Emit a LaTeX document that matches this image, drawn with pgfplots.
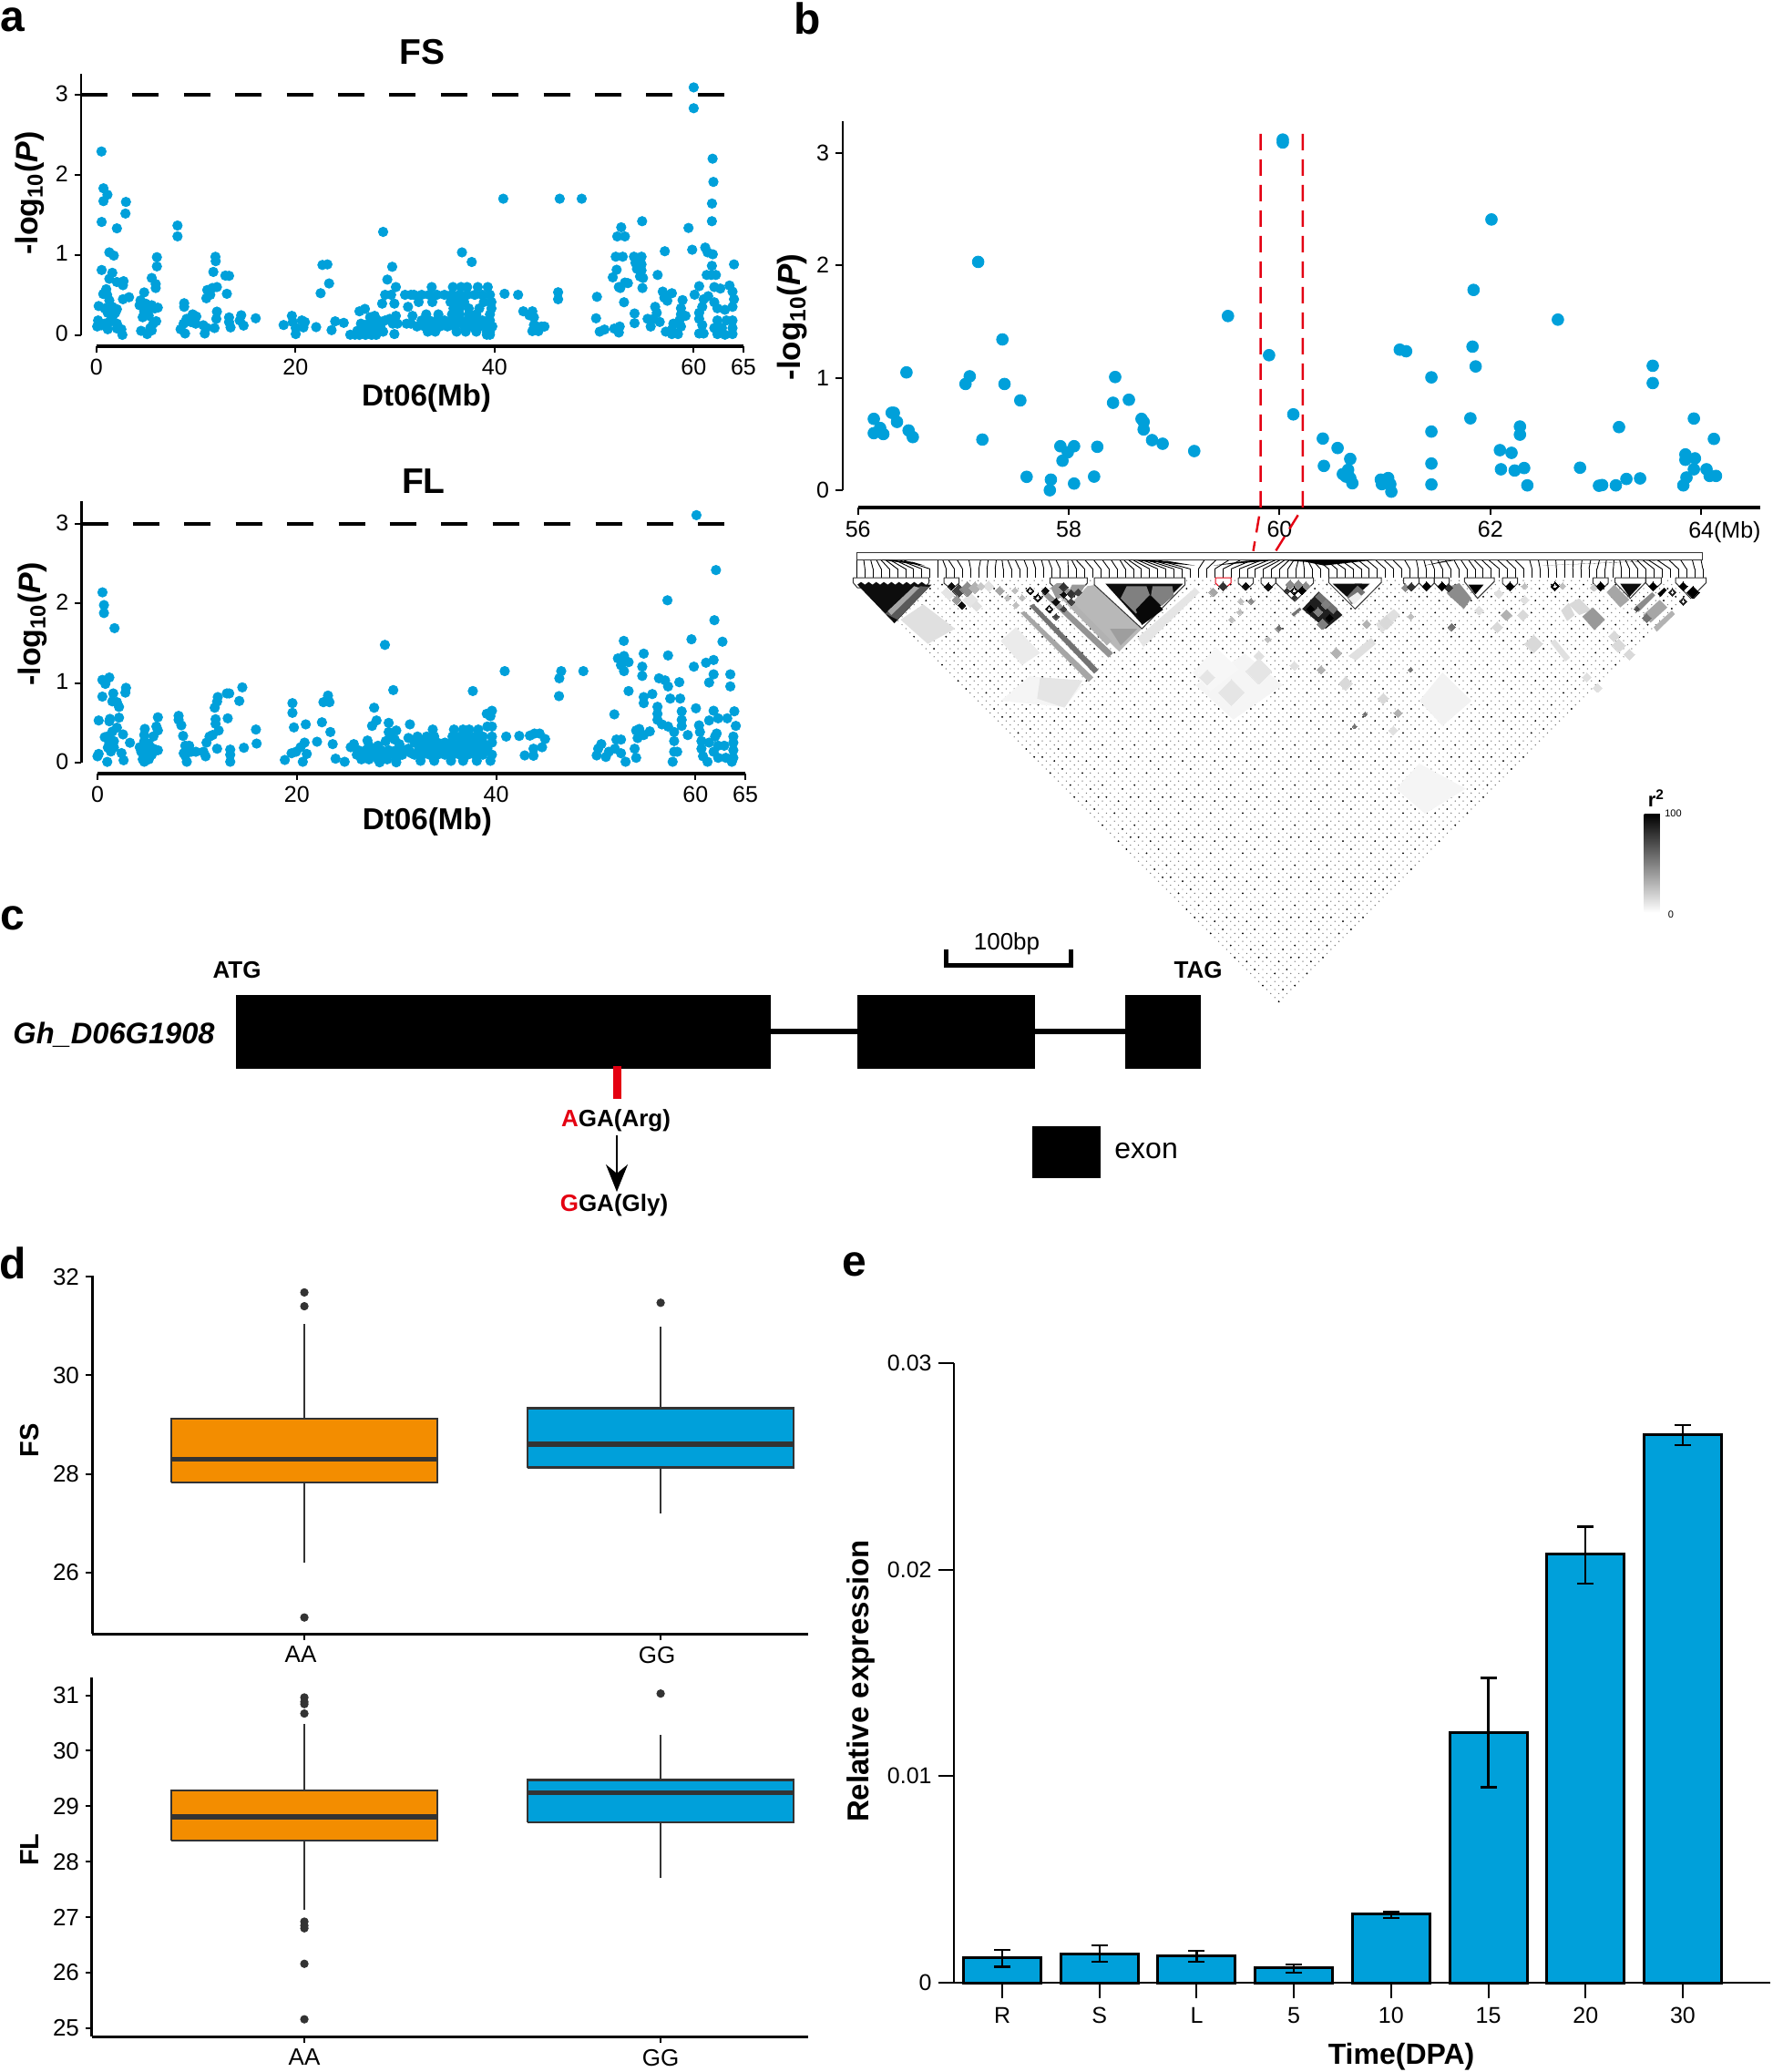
\documentclass[border=0pt]{standalone}
\usepackage{fontspec}
\setmainfont{Liberation Sans}
\usepackage{graphicx}
\usepackage{xcolor}
\usepackage{pgfplots}
\pgfplotsset{compat=1.18}
\usetikzlibrary{arrows.meta,patterns}
\usepackage{pgfplotstable}

\definecolor{dotblue}{RGB}{0,160,218}
\definecolor{boxorange}{RGB}{243,141,0}
\definecolor{boxdark}{RGB}{51,51,51}
\definecolor{snpred}{RGB}{228,0,18}
\newcommand\fs[1]{\fontsize{#1}{#1}\selectfont}

% dot lattice of the LD triangle, 1px = 0.5pt
\pgfdeclarepatternformonly{lddots}{\pgfqpoint{-1pt}{-1pt}}{\pgfqpoint{5.4pt}{5.4pt}}{\pgfqpoint{4.4pt}{4.4pt}}{%
  \pgfpathcircle{\pgfqpoint{0pt}{0pt}}{.36pt}%
  \pgfpathcircle{\pgfqpoint{2.2pt}{2.2pt}}{.36pt}%
  \pgfusepath{fill}}
% darker cells scattered on the same lattice
\pgfdeclarepatternformonly{ldspeck}{\pgfqpoint{-1pt}{-1pt}}{\pgfqpoint{18.6pt}{23pt}}{\pgfqpoint{17.6pt}{22pt}}{%
  \pgfpathcircle{\pgfqpoint{0pt}{0pt}}{.5pt}%
  \pgfpathcircle{\pgfqpoint{6.6pt}{2.2pt}}{.5pt}%
  \pgfpathcircle{\pgfqpoint{13.2pt}{8.8pt}}{.5pt}%
  \pgfpathcircle{\pgfqpoint{2.2pt}{11pt}}{.5pt}%
  \pgfpathcircle{\pgfqpoint{8.8pt}{17.6pt}}{.5pt}%
  \pgfpathcircle{\pgfqpoint{15.4pt}{15.4pt}}{.5pt}%
  \pgfpathcircle{\pgfqpoint{4.4pt}{17.6pt}}{.5pt}%
  \pgfusepath{fill}}

\pgfplotsset{
  /pgf/number format/assume math mode=true,
  tick label style={font=\fs{12.5}},
  every axis title shift=0pt,
  panel/.style={scale only axis,axis lines*=left,axis line style={-},tick align=outside,
    clip=false,tick style={black}},
  manh/.style={panel,xmin=0,xmax=65,ymin=0,xtick={0,20,40,60,65},ytick={0,1,2,3},
    x axis line style={line width=1.7pt},y axis line style={line width=1.1pt},
    major tick length=3.5pt,tick style={line width=1pt,black},
    yticklabel style={yshift=.7pt},
    title style={font=\bfseries\fs{19.5}},xlabel style={font=\bfseries\fs{16.6}},
    ylabel style={font=\bfseries\fs{17}}},
  gdot/.style={only marks,color=dotblue,mark=*,mark size=2.6pt,mark options={solid}},
  boxp/.style={panel,xmin=0.404,xmax=2.414,xtick={1,2},xticklabels={AA,GG},
    axis line style={line width=1.5pt},major tick length=3.5pt,tick style={line width=1pt,black},
    tick label style={font=\fs{13}},ylabel style={font=\bfseries\fs{14.5}}},
  outl/.style={only marks,color=boxdark,mark=*,mark size=2.1pt,forget plot},
  crop/.style={scale only axis,hide axis,anchor=south west,height=130pt,ymin=0,ymax=780,y dir=reverse,clip=false}
}
\newcommand\pg[2]{\addplot[draw=none,fill=#1,forget plot] coordinates {#2};}
\newcommand\ld[3]{\addplot[only marks,color=#1,mark=square*,mark size=#2,mark options={rotate=45,line width=0pt,solid},forget plot] coordinates {#3};}
\newcommand\blk[2][black!80]{\addplot[draw=#1,line width=.5pt,fill=white,forget plot] coordinates {#2};}
% box: left, centre, right, low whisker, q1, median, q3, high whisker, fill
\newcommand\bx[9]{%
  \addplot[boxdark,line width=1.2pt,forget plot] coordinates {(#2,#4)(#2,#5)};
  \addplot[boxdark,line width=1.2pt,forget plot] coordinates {(#2,#7)(#2,#8)};
  \addplot[fill=#9,draw=boxdark,line width=1.2pt,forget plot] coordinates {(#1,#5)(#3,#5)(#3,#7)(#1,#7)(#1,#5)};
  \addplot[boxdark,line width=2.8pt,forget plot] coordinates {(#1,#6)(#3,#6)};
}

\pgfplotstableread{
xt xb
32 32
44 46
56 60
66 74
74 88
82 102
90 116
98 130
106 144
112 158
172 172
180 186
190 200
205 214
225 228
245 242
258 256
272 270
282 284
292 298
305 312
320 326
335 340
350 354
362 368
375 382
395 396
402 410
410 424
425 438
440 452
455 466
470 480
485 494
492 508
500 522
508 536
516 550
524 564
532 578
540 592
550 606
630 620
650 634
672 648
692 662
712 676
728 690
740 704
752 718
760 732
768 746
776 760
784 774
792 788
800 802
808 816
816 830
826 844
840 858
850 872
865 886
880 900
895 914
910 928
925 942
940 956
955 970
975 984
995 998
1008 1012
1020 1026
1032 1040
1045 1054
1060 1068
1072 1082
1085 1096
1095 1110
1108 1124
1120 1138
1135 1152
1150 1166
1165 1180
1190 1194
1205 1208
1220 1222
1235 1236
1250 1250
1265 1264
1280 1278
1295 1292
1310 1306
1322 1320
1335 1334
1345 1348
1355 1362
1365 1376
1375 1390
1385 1404
1395 1418
1410 1432
1430 1446
1450 1460
1470 1474
1485 1488
}\snplines

\begin{document}
\begin{tikzpicture}
\useasboundingbox (0pt,0pt) rectangle (973pt,-1137pt);

% whole-page axis in reference pixels: panel letters and the gene model
\begin{axis}[scale only axis,hide axis,at={(0pt,-1137pt)},anchor=south west,width=973pt,height=1137pt,
  xmin=0,xmax=1946,ymin=0,ymax=2274,y dir=reverse,clip=false]
\node[font=\bfseries\fs{24}] at (axis cs:14,22) {a};
\node[font=\bfseries\fs{24}] at (axis cs:886,20) {b};
\node[font=\bfseries\fs{24}] at (axis cs:14,1008) {c};
\node[font=\bfseries\fs{24}] at (axis cs:14,1386) {d};
\node[font=\bfseries\fs{24}] at (axis cs:938,1388) {e};
% gene model
\pg{black}{(259,1092)(845.5,1092)(845.5,1173)(259,1173)}
\pg{black}{(941,1092)(1136,1092)(1136,1173)(941,1173)}
\pg{black}{(1235,1092)(1318,1092)(1318,1173)(1235,1173)}
\pg{black}{(845,1129)(941,1129)(941,1135)(845,1135)}
\pg{black}{(1136,1129)(1235,1129)(1235,1135)(1136,1135)}
\pg{snpred}{(672.5,1170)(681.5,1170)(681.5,1206)(672.5,1206)}
\pg{black}{(1133,1236)(1208,1236)(1208,1293)(1133,1293)}
\addplot[line width=2.5pt,forget plot] coordinates {(1038,1042)(1038,1059)(1175,1059)(1175,1042)};
\addplot[line width=1pt,-{Stealth[length=15pt,width=12pt]},forget plot] coordinates {(677,1246)(677,1308)};
\node[font=\bfseries\fs{13}] at (axis cs:260,1065) {ATG};
\node[font=\bfseries\fs{13}] at (axis cs:1315,1065) {TAG};
\node[font=\bfseries\itshape\fs{16.3}] at (axis cs:125,1136) {Gh\_D06G1908};
\node[font=\fs{13}] at (axis cs:1105,1036) {100bp};
\node[font=\fs{16},anchor=west,inner sep=0pt] at (axis cs:1223,1263) {exon};
\node[font=\bfseries\fs{13}] at (axis cs:676,1230) {\textcolor{snpred}{A}GA(Arg)};
\node[font=\bfseries\fs{13}] at (axis cs:674,1323) {\textcolor{snpred}{G}GA(Gly)};
\end{axis}

% LD triangle, numbers are positions inside the crop of the heat map
\begin{axis}[scale only axis,hide axis,at={(460pt,-565pt)},anchor=south west,width=500pt,height=270pt,
  xmin=0,xmax=1568,ymin=0,ymax=1568,y dir=reverse,clip=false]
\addplot[draw=none,pattern=lddots,pattern color=black!55,forget plot] coordinates {(30,130)(1490,130)(760,1495)};
\addplot[draw=none,pattern=ldspeck,pattern color=black,forget plot] coordinates {(30,130)(1490,130)(760,1495)};
% very light patches
\pg{black!4}{(700,370)(765,470)(680,580)(615,470)}
\pg{black!3}{(650,350)(690,420)(640,490)(610,430)}
\pg{black!4}{(330,440)(420,470)(390,540)(280,520)}
\pg{black!5}{(1040,430)(1090,520)(1040,600)(1000,520)}
\pg{black!4}{(1000,720)(1080,800)(1010,880)(960,800)}
% connectors under the position band
\addplot[quiver={u=0,v=28},draw=black,line width=.45pt,forget plot] table[x=xb,y expr=100] {\snplines};
\addplot[quiver={u=\thisrow{xb}-\thisrow{xt},v=28},draw=black,line width=.45pt,forget plot] table[x=xt,y expr=72] {\snplines};
\addplot[draw=black!80,line width=.6pt,fill=white,forget plot] coordinates {(32,48)(1487,48)(1487,72)(32,72)(32,48)};
% colour bar
\addplot[draw=none,top color=black,bottom color=white,forget plot] coordinates {(1387,880)(1414,880)(1414,1195)(1387,1195)};
\node[font=\bfseries\fs{11}] at (axis cs:1408,832) {r\textsuperscript{2}};
\node[font=\fs{5.5}] at (axis cs:1437,878) {100};
\node[font=\fs{5.5}] at (axis cs:1433,1200) {0};
\end{axis}

% left half of the blocks, positions in a 3x crop from (935,600)
\begin{axis}[crop,at={(467.5pt,-430pt)},width=235pt,xmin=0,xmax=1410]
\pg{black}{(90,43)(240,62)(200,50)(120,43)}
\pg{black}{(905,43)(1130,62)(1040,47)}
\pg{black}{(1190,62)(1410,43)(1300,46)}
% soft grey areas first
\pg{black!12}{(160,240)(235,190)(340,270)(250,320)}
\pg{black!8}{(490,310)(540,265)(620,350)(560,390)}
\pg{black!10}{(620,430)(760,440)(700,530)(610,500)}
\pg{black!10}{(940,300)(1130,135)(1145,150)(960,330)}
\pg{black!28}{(775,130)(805,125)(955,270)(880,345)(720,190)}
\pg{black!38}{(850,270)(940,270)(885,325)}
\pg{black!35}{(555,218)(568,212)(795,430)(780,445)}
\pg{black!55}{(585,195)(598,188)(812,405)(798,418)}
\pg{black!42}{(625,155)(640,145)(860,350)(845,365)}
\pg{black!30}{(680,160)(695,150)(855,310)(840,325)}
\ld{black!10}{2.9pt}{(320,150)(390,175)(1170,430)}
\ld{black!12}{2pt}{(410,195)(450,130)(1340,360)}
\ld{black!35}{1.7pt}{(1190,150)(487,145)}
\ld{black!25}{1.2pt}{(537,145)(513,168)(560,168)(540,192)(1280,180)(1278,215)(1250,240)(1370,305)}
\ld{black!45}{1.2pt}{(1315,180)(1405,270)}
\ld{black!10}{5pt}{(1340,410)(1250,480)}
\blk{(4,102)(254,102)(254,118)(240,135)(18,135)(4,118)(4,102)}
\blk{(303,102)(353,102)(353,120)(328,140)(303,120)(303,102)}
\blk{(652,102)(775,102)(775,120)(713,180)(652,120)(652,102)}
\blk{(798,102)(1097,102)(1097,125)(955,270)(798,125)(798,102)}
\blk[snpred]{(1197,102)(1248,102)(1248,120)(1222,143)(1197,120)(1197,102)}
\blk{(1272,102)(1322,102)(1322,120)(1297,143)(1272,120)(1272,102)}
\blk{(1347,102)(1395,102)(1395,120)(1371,143)(1347,120)(1347,102)}
% black triangle of the first block, with its toothed top
\pg{black!95}{(18,125)(30,116)(43,125)(55,116)(68,125)(80,116)(93,125)(105,116)(118,125)(130,116)(143,125)(155,116)(168,125)(180,116)(193,125)(205,116)(218,125)(230,116)(243,125)(262,125)(140,252)}
\pg{black!65}{(225,130)(255,132)(150,240)(110,220)}
\pg{black!35}{(205,130)(222,135)(130,225)(118,212)}
\ld{black!95}{1.5pt}{(328,130)(362,193)(587,145)(637,145)(612,168)(672,182)(650,205)(1297,130)(1371,132)}
\ld{black!75}{2.5pt}{(352,145)}
\ld{black!45}{2.9pt}{(380,140)}
\ld{black!30}{2.3pt}{(405,135)}
\ld{black!22}{1.5pt}{(425,130)}
\ld{black!40}{1.75pt}{(345,175)}
\ld{white}{.5pt}{(587,145)(612,168)(650,205)}
\ld{black!75}{1.2pt}{(697,205)(672,230)}
\pg{black!40}{(675,120)(700,120)(720,145)(675,175)(655,135)}
\pg{black!40}{(725,125)(770,125)(745,165)(715,145)}
\ld{black!80}{1.65pt}{(697,132)(722,155)(1222,130)}
\ld{black!75}{1.4pt}{(745,150)(722,182)}
\ld{black!95}{1.2pt}{(697,158)}
% second big block
\pg{black!95}{(835,122)(1090,122)(955,255)}
\pg{black!50}{(905,130)(970,130)(985,170)(935,220)(885,170)}
\pg{black!50}{(990,130)(1055,130)(1060,160)(1020,195)(985,160)}
\pg{black!97}{(980,160)(1025,207)(955,258)(935,207)}
\end{axis}

% right half of the blocks, positions in a 3x crop from (1400,600)
\begin{axis}[crop,at={(700pt,-430pt)},width=240pt,xmin=0,xmax=1440]
\pg{black}{(0,43)(330,43)(160,62)(100,50)}
\pg{black}{(490,62)(600,43)(550,48)}
\pg{black}{(880,62)(1330,43)(1200,48)}
% soft grey areas
\pg{black!12}{(330,255)(390,205)(410,225)(350,285)}
\pg{black!15}{(965,190)(1000,170)(1040,210)(1000,225)}
\pg{black!15}{(940,210)(965,185)(985,225)(960,245)}
\pg{black!12}{(905,315)(920,305)(970,365)(955,378)}
\pg{black!40}{(1010,230)(1045,200)(1085,240)(1050,275)}
\pg{black!45}{(575,130)(605,120)(645,170)(620,205)(565,155)}
\pg{black!35}{(1090,150)(1115,125)(1165,175)(1135,200)}
\pg{black!45}{(1182,200)(1240,150)(1250,160)(1195,215)}
\pg{black!35}{(1210,225)(1265,175)(1290,200)(1235,250)}
\pg{black!30}{(1245,265)(1305,210)(1315,222)(1255,280)}
\pg{black!12}{(240,360)(315,300)(330,320)(265,375)}
\pg{black!55}{(65,212)(80,200)(85,207)(60,230)(52,222)}
\ld{black!15}{3.5pt}{(850,320)}
\ld{black!15}{2.6pt}{(230,450)(1130,325)(365,250)}
\ld{black!15}{2.1pt}{(815,225)(730,265)(1165,355)(355,500)(1115,295)}
\ld{black!30}{2.1pt}{(760,225)(200,350)}
\ld{black!12}{1.75pt}{(735,155)(820,175)(670,210)(1025,430)(1060,465)(388,605)(62,392)}
\ld{black!30}{1.65pt}{(300,255)(150,405)(403,548)}
\ld{black!25}{1.2pt}{(445,230)(820,130)(945,130)}
\ld{black!55}{1.5pt}{(580,265)}
\ld{black!55}{.9pt}{(12,268)(445,405)(260,592)(295,552)}
% blocks
\blk{(2,102)(125,102)(125,120)(63,180)(2,120)(2,102)}
\blk{(175,102)(348,102)(348,118)(262,205)(175,118)(175,102)}
\blk{(422,102)(472,102)(472,120)(447,145)(422,120)(422,102)}
\blk{(473,102)(522,102)(522,120)(497,145)(473,120)(473,102)}
\blk{(523,102)(572,102)(572,120)(548,145)(523,120)(523,102)}
\blk{(622,102)(720,102)(720,115)(665,170)(622,115)(622,102)}
\blk{(747,102)(797,102)(797,120)(772,145)(747,120)(747,102)}
\blk{(1045,102)(1095,102)(1095,120)(1070,145)(1045,120)(1045,102)}
\blk{(1118,102)(1218,102)(1218,118)(1168,170)(1118,118)(1118,102)}
\blk{(1220,102)(1270,102)(1270,120)(1243,145)(1220,120)(1220,102)}
\blk{(1317,102)(1418,102)(1418,118)(1367,170)(1317,118)(1317,102)}
\ld{black!45}{1.75pt}{(100,130)(48,125)(75,125)}
\ld{black!80}{1.2pt}{(38,145)(62,168)}
\ld{black}{1.6pt}{(62,145)(87,145)}
\ld{white}{.5pt}{(62,145)}
% chequered diamond
\pg{black!88}{(88,205)(142,148)(220,225)(165,270)}
\pg{black!55}{(130,165)(145,150)(205,205)(190,222)}
\ld{black!50}{1.75pt}{(165,190)(140,215)}
\ld{black!50}{2.1pt}{(155,255)}
\ld{black}{1.5pt}{(115,205)(178,235)}
\pg{black!95}{(188,122)(285,122)(235,165)}
\pg{black!95}{(260,122)(310,122)(285,145)}
\pg{black!55}{(235,165)(270,128)(295,150)(250,190)}
\pg{black!7}{(240,170)(258,190)(285,165)(270,150)}
\ld{black!45}{1.5pt}{(428,135)}
\ld{black!80}{1.65pt}{(447,132)(570,135)}
\ld{black}{1.65pt}{(497,130)(548,130)(772,130)(920,130)(1070,130)(1243,130)(1342,130)}
\ld{white}{.5pt}{(920,130)}
\pg{black}{(635,125)(685,125)(658,157)}
\ld{black!20}{1.4pt}{(1047,135)}
\pg{black!95}{(1135,122)(1205,122)(1165,165)}
\pg{black}{(1258,155)(1280,135)(1288,143)(1268,165)}
\ld{black!85}{1.5pt}{(1307,150)(1342,180)}
\ld{white}{.4pt}{(1307,150)(1342,180)}
\ld{black!70}{1pt}{(1190,205)}
\ld{black!55}{1.75pt}{(1222,235)}
\ld{black}{2.35pt}{(1375,150)}
\end{axis}

% a, FS
\begin{axis}[manh,at={(52.95pt,-183.75pt)},anchor=south west,width=355.05pt,height=143.25pt,ymax=3.26,
  axis y line shift=8.5pt,axis x line shift=6.25pt,
  title={FS},title style={at={(axis description cs:0.5036,1.0838)},anchor=center},
  xlabel={Dt06(Mb)},xlabel style={at={(axis description cs:0.51,-0.2426)},anchor=center},
  ylabel={-log\textsubscript{10}(\textit{P})},ylabel style={at={(axis description cs:-0.1027,0.5428)},anchor=center}]
\addplot[black,line width=2.2pt,dash pattern=on 14.5pt off 13.7pt,forget plot] coordinates {(-1.55,3)(63.4,3)};
\addplot[gdot] coordinates {
(.52,1.41)(2.05,1.33)(1.29,1.03)(1.74,.99)(.52,.81)(1.59,.775)(1.29,.70)(2.05,.66)(2.72,.67)(2.66,.62)
(.98,.57)(.68,.51)(1.07,.50)(1.29,.43)(2.66,.445)(3.27,.47)(.22,.36)(.83,.33)(1.59,.35)(2.05,.32)(1.13,.275)(1.89,.275)(1.59,.22)
(.16,.18)(.07,.105)(.83,.14)(1.29,.16)(1.13,.07)(2.05,.14)(2.05,.08)(2.5,.07)(2.6,0)(.52,.12)
(6.07,.97)(6.07,.855)(5.55,.71)(5.95,.635)(5.95,.585)(4.79,.53)(4.42,.43)(4.33,.37)(4.94,.39)(5.25,.33)(6.16,.34)(5.86,.33)(5.55,.37)
(4.79,.29)(4.64,.22)(5.25,.24)(6,.17)(5.7,.14)(5.4,.085)(4.48,.05)(5.09,.01)(5.55,.055)
(8.14,1.365)(8.14,1.23)(8.81,.395)(8.81,.35)(9.66,.256)(10.03,.23)(9.05,.2)(9.5,.16)(8.75,.14)(8.45,.07)(8.9,.017)(9.97,.14)(10.73,.12)(11.03,.09)(10.88,.017)
(11.95,.975)(11.98,.92)(11.74,.786)(11.13,.56)(11.64,.585)(12.1,.597)(11.04,.457)(11.43,.50)(12.95,.74)(13.32,.737)(13.1,.513)
(12.1,.29)(12.04,.2)(11.86,.085)(13.32,.218)(13.32,.16)(13.47,.093)(14.54,.245)(14.39,.18)(14.78,.116)(16,.207)
(18.8,.123)(19.63,.237)(19.72,.16)(20.02,.085)(20.02,.01)(20.63,.18)(20.94,.16)(20.79,.093)(22.07,.097)(22.52,.52)(22.7,.873)(23.2,.88)(23.37,.642)
(23.62,.059)(23.98,.169)(24.84,.15)(25.5,.002)(25.97,.002)(26.42,.294)(26.97,.324)(26.57,.14)(26.73,.085)(26.42,0)(27.03,0)(27.64,0)(28.1,0)
(27.03,.123)(27.49,.22)(27.95,.237)(28.25,.18)(27.34,.085)(27.95,.085)(28.55,.085)(29,.18)(29.47,.2)(30.08,.237)(29.93,.01)(29.77,.14)(30.23,.14)
(26.8,.04)(27.3,.04)(27.8,.04)(28.3,.04)(28.8,.04)(26.2,.05)(27.6,.16)(28.6,.14)
(28.7,.39)(29,.5)(29.6,.5)(30.08,.597)(29.22,.69)(29.71,.85)(28.8,1.286)(29.93,.39)(31,.5)(31.6,.5)(31.3,.35)(31.15,.14)(31.75,.237)(31.6,.14)
(31.9,.5)(32.67,.5)(33.43,.5)(34.2,.5)(34.96,.5)(35.72,.5)(36.48,.5)(37.24,.5)(38,.5)(38.77,.5)(39.53,.5)
(33.68,.597)(35.81,.597)(36.63,.597)(37.24,.597)(38.31,.597)(39.31,.597)(36.72,1.03)(37.7,.91)
(32.37,.41)(33.74,.41)(35.57,.41)(36.18,.41)(36.94,.41)(38.92,.41)(39.68,.41)(35.87,.33)(36.48,.33)(37.4,.33)(38.46,.33)(39.68,.33)
(33.13,.256)(34.35,.256)(35.72,.256)(36.48,.256)(37.4,.256)(38.16,.256)(39.53,.256)
(32.67,.18)(33.43,.18)(34.2,.18)(34.96,.18)(35.72,.18)(36.48,.18)(37.24,.18)(38,.18)(38.77,.18)(39.53,.18)
(32.2,.105)(32.98,.105)(33.74,.105)(34.5,.105)(35.26,.105)(36.02,.105)(36.94,.105)(37.7,.105)(38.46,.105)(39.22,.105)(39.77,.105)
(33.28,.04)(34.04,.04)(36.18,.04)(37.09,.04)(38.16,.04)(39.22,.04)(39.53,.04)(39.22,.002)(39.53,.002)
(41,.513)(42.36,.50)(42.88,.294)(43.79,.294)(43.49,.245)(43.95,.218)(43.95,.123)(44.71,.104)(45.01,.104)(44.25,.104)(43.79,.047)(44.4,.047)
(46.38,.532)(46.38,.445)(50.28,.475)(50.19,.207)(50.56,.04)(51.04,.066)(52.02,.078)(52.57,.104)(52.48,.029)
(52.72,1.343)(52.32,1.229)(53.09,1.229)(52.17,.976)(52.87,.976)(52.26,.813)(51.87,.718)(52.48,.597)(53.09,.653)(53.39,.646)(52.63,.585)
(54.82,1.419)(54,.976)(54.76,.976)(54.15,.9)(54.76,.88)(54.3,.824)(54.76,.805)(54.61,.73)(54.91,.71)(54.85,.585)(56.38,.748)
(53,.407)(54.06,.267)(54.06,.146)(55.37,.2)(55.68,.104)(55.98,.2)(56.13,.35)(56.29,.275)(56.59,.161)
(59.48,1.335)(61.83,1.419)(59.85,1.063)(57.1,1.044)(61.16,1.09)(61.4,1.03)(61.92,1.006)(61.83,.862)(61.31,.748)(62.23,.748)(61.77,.748)(64.05,.88)
(56.89,.54)(57.81,.52)(57.05,.464)(57.35,.426)(58.88,.434)(58.72,.332)(58.72,.256)(59.18,.237)(58.57,.18)(57.96,.14)(58.72,.104)(57.81,.066)(57.2,.04)(57.81,.01)(58.42,.01)
(60.55,.608)(60.09,.502)(61,.445)(60.86,.35)(60.55,.275)(60.55,.2)(60.86,.123)(60.55,.017)(61,.017)
(62.07,.597)(62.68,.578)(63.6,.616)(63.9,.54)(61.46,.483)(62.07,.407)(62.38,.332)(64.05,.445)(63.9,.35)(63.14,.313)
(62.38,.18)(63.9,.18)(63.29,.18)(62.07,.085)(62.84,.085)(63.9,.085)(62.38,.01)(63.14,.002)(63.9,.01)
(.5,2.29)(.7,1.83)(1.1,1.75)(.7,1.67)(2.96,1.66)(2.91,1.515)(40.87,1.70)(46.54,1.70)(48.75,1.70)
(60,3.09)(60,2.83)(61.9,2.2)(61.98,1.91)(61.84,1.64)
};
\end{axis}

% a, FL
\begin{axis}[manh,at={(53.5pt,-418.5pt)},anchor=south west,width=355.5pt,height=143.5pt,ymax=3.286,
  axis y line shift=8.8pt,axis x line shift=6pt,
  title={FL},title style={at={(axis description cs:0.5035,1.0767)},anchor=center},
  xlabel={Dt06(Mb)},xlabel style={at={(axis description cs:0.5091,-0.2265)},anchor=center},
  ylabel={-log\textsubscript{10}(\textit{P})},ylabel style={at={(axis description cs:-0.0999,0.5296)},anchor=center}]
\addplot[black,line width=2.2pt,dash pattern=on 14.5pt off 13.7pt,forget plot] coordinates {(-1.6,3)(63.4,3)};
\addplot[gdot] coordinates {
(1.19,1.07)(.49,1.04)(.79,.99)(2.86,.94)(2.8,.88)(1.58,.87)(.49,.83)(1.49,.77)(1.95,.76)(2.16,.70)(.12,.53)(1.25,.55)(2.16,.565)(1.19,.52)
(1.95,.44)(1.04,.33)(1.49,.39)(2.56,.355)(.73,.32)(1.19,.25)(1.65,.27)(1.04,.19)(1.65,.19)(3.26,.25)(1.34,.14)(.12,.11)(0,.08)(.98,.01)(2.41,.12)(2.62,.03)
(6.06,.57)(5.91,.454)(6.06,.405)(4.75,.424)(4.69,.347)(5.61,.33)(4.69,.27)(4.24,.194)(5.15,.233)(6.06,.156)(5.61,.175)(4.39,.137)(5,.118)(5.45,.1)(4.54,.042)(4.69,.011)(5.15,.042)(4.85,.175)
(8.14,.588)(8.14,.538)(8.41,.469)(8.59,.336)(8.81,.213)(9.2,.213)(8.65,.118)(8.96,.011)(8.81,.087)(9.41,.137)(9.87,.137)(10.63,.137)(10.85,.08)(10.94,.252)(11.24,.328)(11.55,.347)(12,.175)(12.16,.404)
(12.07,.824)(12,.767)(11.76,.69)(11.85,.546)(11.85,.488)(12.98,.87)(13.22,.87)(14.23,.775)(14.53,.946)(13.07,.557)
(13.32,.164)(13.32,.1)(13.32,.011)(14.69,.187)(15.9,.416)(15.97,.24)
(18.8,.034)(19.56,.748)(19.56,.626)(19.71,.443)(20.9,.481)(19.93,.137)(20.38,.194)(20.78,.252)(19.47,.118)(21,.11)(20.6,.011)(22.03,.263)(22.52,.507)(22.67,.76)(23.13,.843)(23.28,.76)(23.37,.385)(23.6,.233)(23.89,.05)(24.8,.011)
(25.41,.194)(25.72,.233)(27.76,.69)(28,.53)(27.55,.462)(27.09,.278)(29.68,.912)(29.22,.5)
(26.17,.156)(26.93,.156)(27.7,.156)(28.46,.156)(29.22,.156)(29.98,.156)(30.74,.156)
(26.02,.1)(26.78,.1)(27.55,.1)(28.31,.1)(29.07,.1)(29.83,.1)(30.59,.1)
(26.48,.042)(27.24,.042)(28.15,.042)(29.07,.042)(29.98,.042)(28.31,.004)(29.98,.004)
(29.37,.347)(29.83,.29)(28.92,.27)(29.98,.404)(29.22,.385)(30.29,.233)(31.35,.481)(31.2,.31)(31.2,.175)(31.5,.118)(28.15,.213)(27.24,.213)
(40.86,1.15)(37.66,.9)(39.58,.652)(39.06,.614)(39.43,.584)(39.58,.454)(39.12,.454)
(33.64,.416)(35.77,.416)(36.68,.416)(37.3,.416)(38.21,.416)
(32.11,.328)(33.03,.328)(33.79,.328)(35.62,.328)(36.38,.328)(37.14,.328)(37.9,.328)(38.67,.328)(39.58,.328)
(31.81,.252)(32.57,.252)(33.33,.252)(34.1,.252)(34.86,.252)(35.62,.252)(36.38,.252)(37.14,.252)(37.9,.252)(38.67,.252)(39.58,.252)
(32.27,.175)(33.03,.175)(33.79,.175)(34.55,.175)(35.31,.175)(36.08,.175)(36.84,.175)(37.6,.175)(38.36,.175)(39.12,.175)
(31.81,.1)(32.57,.1)(33.33,.1)(34.1,.1)(34.86,.1)(35.62,.1)(36.38,.1)(37.14,.1)(37.9,.1)(38.67,.1)(39.58,.1)
(32.42,.023)(33.79,.023)(35.47,.023)(36.68,.023)(38.06,.023)(39.43,.023)
(41.01,.328)(42.32,.336)(43.39,.34)(43.85,.366)(44.36,.366)(44.91,.297)(44.61,.194)(43.75,.175)(42.87,.091)(43.75,.087)
(46.53,1.15)(46.34,1.06)(46.31,.836)(48.75,1.15)(51.86,.607)(50.09,.091)(50.55,.233)(50.24,.175)(51.01,.072)(51.31,.137)(52.07,.29)(52.53,.29)(51.92,.175)(52.53,.118)(52.99,.011)
(52.83,1.34)(52.22,1.31)(52.83,1.263)(53.29,1.263)(52.53,1.225)(52.83,1.15)(54.81,1.37)(57.25,1.347)(54.66,1.206)(54.66,1.09)(53.29,.9)(55.67,.862)(54.81,.824)(54.81,.748)
(56.34,1.06)(56.95,1.034)(57.25,.958)(58.38,1.011)(57.47,.805)(58.47,.805)(59.84,1.206)(61.06,1.256)(61.82,1.29)(61.82,1.11)(61.37,1.007)(63.5,1.11)(63.5,.958)
(56.19,.702)(56.19,.614)(56.19,.538)(56.64,.481)(57.25,.454)(57.86,.385)(58.62,.645)(58.62,.538)(58.62,.462)(59.23,.347)
(54.36,.423)(54.05,.404)(55.42,.393)(54.81,.347)(54.2,.309)(53.9,.175)(54.05,.061)(57.86,.271)(57.86,.137)(58.17,.137)(57.71,.011)
(60.05,.683)(61.82,.652)(61.37,.53)(62.28,.557)(63.19,.557)(63.9,.645)(64.05,.462)(60.36,.469)(60.45,.385)(60.6,.271)(60.6,.175)(60.76,.08)(61.21,.011)
(62.13,.366)(61.97,.328)(63.8,.328)(63.8,.252)(61.37,.252)(62.28,.213)(62.89,.213)(63.8,.156)(62.28,.061)(63.05,.061)(63.8,.061)(63.65,.011)(61.82,.137)
(.5,2.14)(.65,1.98)(.65,1.88)(1.71,1.69)(28.84,1.48)(60.1,3.11)(62.06,2.42)(57.19,2.04)(61.9,1.79)(59.6,1.55)(62.71,1.52)(52.81,1.53)
};
\end{axis}

% b
\begin{axis}[panel,at={(470.85pt,-269pt)},anchor=south west,width=495.15pt,height=202.65pt,
  xmin=56,xmax=64.56,ymin=0,ymax=3.282,xtick={56,58,60,62,64},xticklabels={56,58,60,62,{64\rlap{(Mb)}}},ytick={0,1,2,3},
  axis y line shift=8.35pt,axis x line shift=9.5pt,
  x axis line style={line width=1.7pt},y axis line style={line width=1.1pt},
  major tick length=4pt,tick style={line width=1pt,black},
  ylabel={-log\textsubscript{10}(\textit{P})},ylabel style={font=\bfseries\fs{17.5},at={(axis description cs:-0.0724,0.4688)},anchor=center}]
\addplot[only marks,color=dotblue,mark=*,mark size=3.2pt,mark options={solid}] coordinates {
(56.15,.634)(56.32,.688)(56.34,.688)(56.37,.607)(56.21,.553)(56.15,.507)(56.24,.499)(56.48,.531)(56.52,.472)(56.46,1.047)
(57.02,.944)(57.06,1.012)(57.14,2.029)(57.18,.45)(57.37,1.34)(57.39,.944)(57.54,.798)(57.6,.119)
(57.83,.094)(57.82,0)(57.92,.391)(57.99,.337)(57.94,.262)(58.05,.391)(58.05,.059)(58.24,.121)(58.27,.386)
(58.42,.777)(58.44,1.006)(58.57,.804)(58.69,.634)(58.71,.607)(58.71,.54)(58.79,.445)(58.89,.413)(59.19,.348)(59.51,1.548)
(59.9,1.2)(60.03,3.116)(60.03,3.09)(60.13,.674)
(60.41,.459)(60.42,.216)(60.55,.375)(60.67,.278)(60.65,.181)(60.6,.143)(60.63,.121)(60.67,.108)(60.69,.062)
(60.96,.094)(60.97,.054)(61.03,.108)(61.05,.054)(61.06,-.013)(61.14,1.249)(61.2,1.235)
(61.44,1.003)(61.44,.521)(61.44,.237)(61.44,.051)
(61.81,.639)(61.83,1.276)(61.84,1.78)(61.86,1.1)(62.01,2.406)
(62.09,.356)(62.1,.186)(62.2,.332)(62.23,.175)(62.28,.566)(62.28,.494)(62.32,.197)(62.35,.043)
(62.64,1.516)(62.85,.2)(63.03,.04)(63.06,.046)(63.19,.043)(63.22,.561)(63.29,.1)(63.42,.105)
(63.54,1.106)(63.54,.952)(63.83,.043)(63.86,.113)(63.85,.318)(63.85,.27)(63.94,.283)(63.93,.637)(63.93,.186)(64.05,.186)(64.08,.127)(64.14,.127)(64.12,.456)
};
\addplot[snpred,line width=1.2pt,dash pattern=on 9pt off 5pt,forget plot] coordinates {(59.82,3.168)(59.82,-.153)(59.75,-.54)};
\addplot[snpred,line width=1.2pt,dash pattern=on 9pt off 5pt,forget plot] coordinates {(60.22,3.168)(60.22,-.153)(59.95,-.56)};
\end{axis}

% d, FS
\begin{axis}[boxp,at={(50.5pt,-896.5pt)},anchor=south west,width=393pt,height=196.5pt,ymin=24.76,ymax=32.02,ytick={26,28,30,32},
  xticklabel style={xshift=-2pt},
  ylabel={FS},ylabel style={at={(axis description cs:-0.0865,0.5394)},anchor=center}]
\bx{.627}{1}{1.373}{26.2}{27.83}{28.3}{29.12}{31.04}{boxorange}
\bx{1.627}{2}{2.373}{27.2}{28.13}{28.6}{29.33}{30.99}{dotblue}
\addplot[outl] coordinates {(1,31.68)(1,31.4)(1,25.09)(2,31.47)};
\end{axis}

% d, FL
\begin{axis}[boxp,at={(50.5pt,-1117.5pt)},anchor=south west,width=393pt,height=197pt,ymin=24.85,ymax=31.32,ytick={25,26,...,31},
  ylabel={FL},ylabel style={at={(axis description cs:-0.0865,0.5203)},anchor=center}]
\bx{.627}{1}{1.373}{27.14}{28.38}{28.81}{29.28}{30.48}{boxorange}
\bx{1.627}{2}{2.373}{27.7}{28.71}{29.24}{29.47}{30.28}{dotblue}
\addplot[outl] coordinates {(1,30.96)(1,30.88)(1,30.84)(1,30.67)(1,26.92)(1,26.85)(1,26.8)(1,26.16)(1,25.16)(2,31.03)};
\end{axis}

% e
\begin{axis}[panel,ybar,at={(523.35pt,-1088pt)},anchor=south west,width=448.15pt,height=340pt,
  xmin=-.5,xmax=7.9,ymin=0,ymax=.03,bar width=42.5pt,
  xtick={0,1,...,7},xticklabels={R,S,L,5,10,15,20,30},
  xticklabel style={yshift=-1.5pt},
  ytick={0,.01,.02,.03},yticklabels={0,0.01,0.02,0.03},scaled y ticks=false,
  axis line style={line width=1.1pt},tick style={line width=1pt,black},
  major tick length=8.5pt,
  ylabel={Relative expression},ylabel style={font=\bfseries\fs{16.5},at={(axis description cs:-0.1135,0.4868)},anchor=center},
  xlabel={Time(DPA)},xlabel style={font=\bfseries\fs{16},at={(axis description cs:0.5482,-0.12)},anchor=center}]
\addplot[fill=dotblue,draw=black,line width=1.5pt,
  error bars/.cd,y dir=both,y explicit,error mark options={rotate=90,mark size=4.5pt,line width=1.1pt,black},
  error bar style={line width=1.1pt,black}] coordinates {
(0,.00121) += (0,.00038) -= (0,.00044)
(1,.00141) += (0,.00039) -= (0,.00041)
(2,.00129) += (0,.00025) -= (0,.00029)
(3,.00072) += (0,.00015) -= (0,.00023)
(4,.00332) += (0,.00012) -= (0,.00018)
(5,.01211) += (0,.00265) -= (0,.00265)
(6,.02077) += (0,.00131) -= (0,.00144)
(7,.02653) += (0,.00046) -= (0,.00051)
};
\end{axis}
\end{tikzpicture}
\end{document}
